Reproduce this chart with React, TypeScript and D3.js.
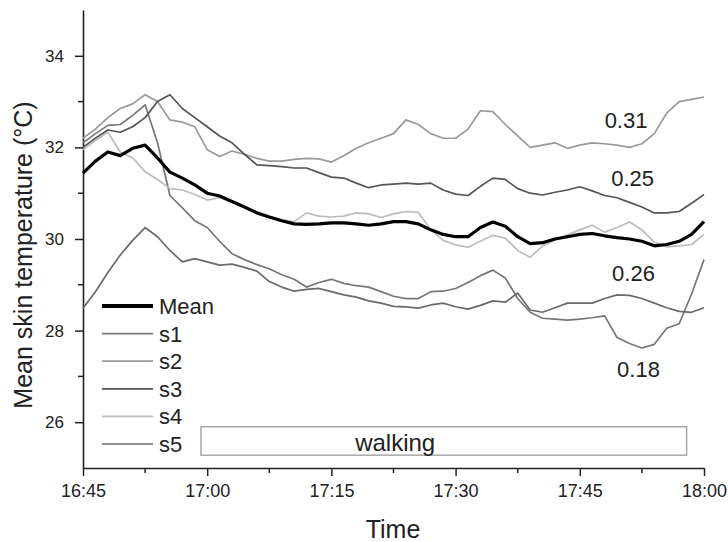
import * as d3 from "d3";
import { useEffect, useRef } from "react";

// minutes after 16:45
const minutes = [
  0, 1.5, 3, 4.5, 6, 7.5, 9, 10.5, 12, 13.5, 15, 16.5, 18, 19.5, 21, 22.5, 24,
  25.5, 27, 28.5, 30, 31.5, 33, 34.5, 36, 37.5, 39, 40.5, 42, 43.5, 45, 46.5,
  48, 49.5, 51, 52.5, 54, 55.5, 57, 58.5, 60, 61.5, 63, 64.5, 66, 67.5, 69,
  70.5, 72, 73.5, 75,
];

const timeTicks = [0, 15, 30, 45, 60, 75];
const timeLabels = ["16:45", "17:00", "17:15", "17:30", "17:45", "18:00"];
const minorTimeTicks = [7.5, 22.5, 37.5, 52.5, 67.5];
const tempTicks = [26, 28, 30, 32, 34];
const minorTempTicks = [27, 29, 31, 33];

const meanTemp = [
  31.44, 31.7, 31.9, 31.82, 31.98, 32.05, 31.77, 31.46, 31.33, 31.18,
  31.0, 30.94, 30.82, 30.7, 30.57, 30.48, 30.4, 30.33, 30.32, 30.33,
  30.35, 30.35, 30.33, 30.3, 30.33, 30.38, 30.38, 30.33, 30.2, 30.1,
  30.05, 30.05, 30.25, 30.37, 30.28, 30.05, 29.9, 29.92, 30.0, 30.05,
  30.1, 30.12, 30.07, 30.03, 30.0, 29.95, 29.85, 29.88, 29.95, 30.1, 30.38,
];

const s1 = [
  32.1, 32.3, 32.48, 32.5, 32.7, 32.93, 32.1, 30.95, 30.68, 30.4,
  30.25, 29.95, 29.68, 29.55, 29.44, 29.35, 29.22, 29.12, 28.95, 29.05,
  29.12, 29.03, 28.98, 28.95, 28.85, 28.75, 28.7, 28.7, 28.85, 28.86,
  28.92, 29.05, 29.2, 29.32, 29.15, 28.7, 28.4, 28.27, 28.25, 28.23,
  28.25, 28.28, 28.32, 27.85, 27.72, 27.62, 27.7, 28.05, 28.15, 28.8, 29.55,
];

const s2 = [
  32.2, 32.4, 32.65, 32.85, 32.95, 33.15, 33.0, 32.6, 32.55, 32.45,
  31.95, 31.8, 31.92, 31.85, 31.76, 31.7, 31.7, 31.74, 31.76, 31.75,
  31.68, 31.82, 31.98, 32.1, 32.2, 32.3, 32.6, 32.5, 32.3, 32.2,
  32.2, 32.4, 32.8, 32.78, 32.5, 32.25, 32.0, 32.05, 32.1, 31.98,
  32.05, 32.1, 32.08, 32.05, 32.0, 32.08, 32.3, 32.75, 33.0, 33.05, 33.1,
];

const s3 = [
  32.0, 32.2, 32.38, 32.33, 32.45, 32.65, 33.0, 33.15, 32.85, 32.65,
  32.45, 32.25, 32.1, 31.85, 31.62, 31.6, 31.58, 31.55, 31.55, 31.45,
  31.35, 31.33, 31.22, 31.12, 31.18, 31.2, 31.22, 31.2, 31.22, 31.07,
  30.98, 30.95, 31.15, 31.33, 31.3, 31.1, 31.0, 30.96, 31.02, 31.07,
  31.14, 31.05, 30.95, 30.9, 30.8, 30.7, 30.57, 30.57, 30.6, 30.78, 30.97,
];

const s4 = [
  31.95, 32.15, 32.33, 31.9, 31.77, 31.47, 31.3, 31.1, 31.07, 30.97,
  30.85, 30.9, 30.8, 30.7, 30.6, 30.5, 30.42, 30.38, 30.57, 30.5,
  30.48, 30.5, 30.57, 30.55, 30.47, 30.55, 30.6, 30.58, 30.2, 29.97,
  29.87, 29.82, 29.95, 30.08, 30.02, 29.75, 29.6, 29.85, 29.98, 30.09,
  30.2, 30.3, 30.15, 30.25, 30.37, 30.2, 29.93, 29.83, 29.85, 29.88, 30.1,
];

const s5 = [
  28.49, 28.85, 29.27, 29.65, 29.97, 30.25, 30.05, 29.75, 29.5, 29.57,
  29.5, 29.43, 29.45, 29.38, 29.3, 29.07, 28.95, 28.86, 28.9, 28.92,
  28.85, 28.78, 28.73, 28.65, 28.6, 28.53, 28.52, 28.49, 28.56, 28.6,
  28.52, 28.47, 28.55, 28.65, 28.62, 28.82, 28.45, 28.4, 28.5, 28.6,
  28.6, 28.6, 28.7, 28.78, 28.77, 28.7, 28.6, 28.5, 28.42, 28.4, 28.5,
];

const seriesNames = ["s1", "s2", "s3", "s4", "s5"];
const seriesValues = [s1, s2, s3, s4, s5];
const seriesColors = ["#777777", "#9a9a9a", "#555555", "#bdbdbd", "#6a6a6a"];

const noteText = ["0.31", "0.25", "0.26", "0.18"];
const noteMinute = [63.0, 63.8, 63.9, 64.5];
const noteTemp = [32.42, 31.16, 29.08, 26.99];

const walkMinutes = [14.25, 72.9];
const walkTemps = [25.28, 25.9];

const W = 728;
const H = 542;
const FONT = "'Liberation Sans', Arial, Helvetica, sans-serif";

export default function App() {
  const svgRef = useRef<SVGSVGElement>(null);

  useEffect(() => {
    document.body.style.margin = "0";
    const svg = d3.select(svgRef.current).attr("width", W).attr("height", H);
    svg.selectAll("*").remove();

    const x = d3.scaleLinear().domain([0, 75]).range([83, 704]);
    const y = d3.scaleLinear().domain([25, 35]).range([468, 10]);

    svg.append("rect").attr("width", W).attr("height", H).attr("fill", "#fff");

    // walking period box
    svg.append("rect")
      .attr("x", x(walkMinutes[0]))
      .attr("y", y(walkTemps[1]))
      .attr("width", x(walkMinutes[1]) - x(walkMinutes[0]))
      .attr("height", y(walkTemps[0]) - y(walkTemps[1]))
      .attr("fill", "none")
      .attr("stroke", "#a8a8a8")
      .attr("stroke-width", 1.5);

    svg.append("text")
      .attr("x", x(37.7))
      .attr("y", y(25.37))
      .attr("text-anchor", "middle")
      .attr("font-family", FONT)
      .attr("font-size", 24)
      .attr("fill", "#222")
      .text("walking");

    drawAxes(svg, x, y);

    const line = d3.line<number>()
      .x((_, i) => x(minutes[i]))
      .y(d => y(d));

    seriesValues.forEach((vals, k) => {
      svg.append("path")
        .attr("d", line(vals))
        .attr("fill", "none")
        .attr("stroke", seriesColors[k])
        .attr("stroke-width", 1.7)
        .attr("stroke-linejoin", "round");
    });

    svg.append("path")
      .attr("d", line(meanTemp))
      .attr("fill", "none")
      .attr("stroke", "#000")
      .attr("stroke-width", 3.2)
      .attr("stroke-linejoin", "round");

    // r values
    svg.append("g")
      .selectAll("text")
      .data(noteText)
      .join("text")
      .attr("x", (_, i) => x(noteMinute[i]))
      .attr("y", (_, i) => y(noteTemp[i]))
      .attr("font-family", FONT)
      .attr("font-size", 22)
      .attr("fill", "#222")
      .text(d => d);

    drawLegend(svg);
  }, []);

  return <svg ref={svgRef} style={{ display: "block" }}></svg>;
}

function drawAxes(svg: any, x: any, y: any) {
  const ink = "#222";

  const gx = svg.append("g").attr("transform", "translate(0,468)");
  gx.call(
    d3.axisBottom(x)
      .tickValues(timeTicks)
      .tickFormat((_: any, i: number) => timeLabels[i])
      .tickSize(8)
      .tickSizeOuter(0)
      .tickPadding(8)
  );
  gx.selectAll("line.minor")
    .data(minorTimeTicks)
    .join("line")
    .attr("class", "minor")
    .attr("x1", (d: number) => x(d))
    .attr("x2", (d: number) => x(d))
    .attr("y1", 0)
    .attr("y2", 5);

  const gy = svg.append("g").attr("transform", "translate(83,0)");
  gy.call(
    d3.axisLeft(y)
      .tickValues(tempTicks)
      .tickSize(8)
      .tickSizeOuter(0)
      .tickPadding(11)
  );
  gy.selectAll("line.minor")
    .data(minorTempTicks)
    .join("line")
    .attr("class", "minor")
    .attr("x1", 0)
    .attr("x2", -5)
    .attr("y1", (d: number) => y(d))
    .attr("y2", (d: number) => y(d));

  [gx, gy].forEach(g => {
    g.selectAll("path.domain").attr("stroke", ink).attr("stroke-width", 1.6);
    g.selectAll("line").attr("stroke", ink).attr("stroke-width", 1.5);
    g.selectAll("text")
      .attr("font-family", FONT)
      .attr("font-size", 17)
      .attr("fill", ink);
  });
  gx.selectAll("text").attr("font-size", 18);

  svg.append("text")
    .attr("x", 393)
    .attr("y", 538)
    .attr("text-anchor", "middle")
    .attr("font-family", FONT)
    .attr("font-size", 25)
    .attr("fill", ink)
    .text("Time");

  svg.append("text")
    .attr("transform", "translate(32,255) rotate(-90)")
    .attr("text-anchor", "middle")
    .attr("font-family", FONT)
    .attr("font-size", 25)
    .attr("fill", ink)
    .text("Mean skin temperature (°C)");
}

function drawLegend(svg: any) {
  const names = ["Mean", ...seriesNames];
  const colors = ["#000", ...seriesColors];
  const rowY = d3.scaleLinear().domain([0, 5]).range([306, 444]);

  const g = svg.append("g");
  names.forEach((name, i) => {
    g.append("line")
      .attr("x1", 102)
      .attr("x2", 153)
      .attr("y1", rowY(i))
      .attr("y2", rowY(i))
      .attr("stroke", colors[i])
      .attr("stroke-width", i === 0 ? 4 : 1.7);
    g.append("text")
      .attr("x", 159)
      .attr("y", rowY(i) + 8)
      .attr("font-family", FONT)
      .attr("font-size", 22)
      .attr("fill", "#222")
      .text(name);
  });
}
